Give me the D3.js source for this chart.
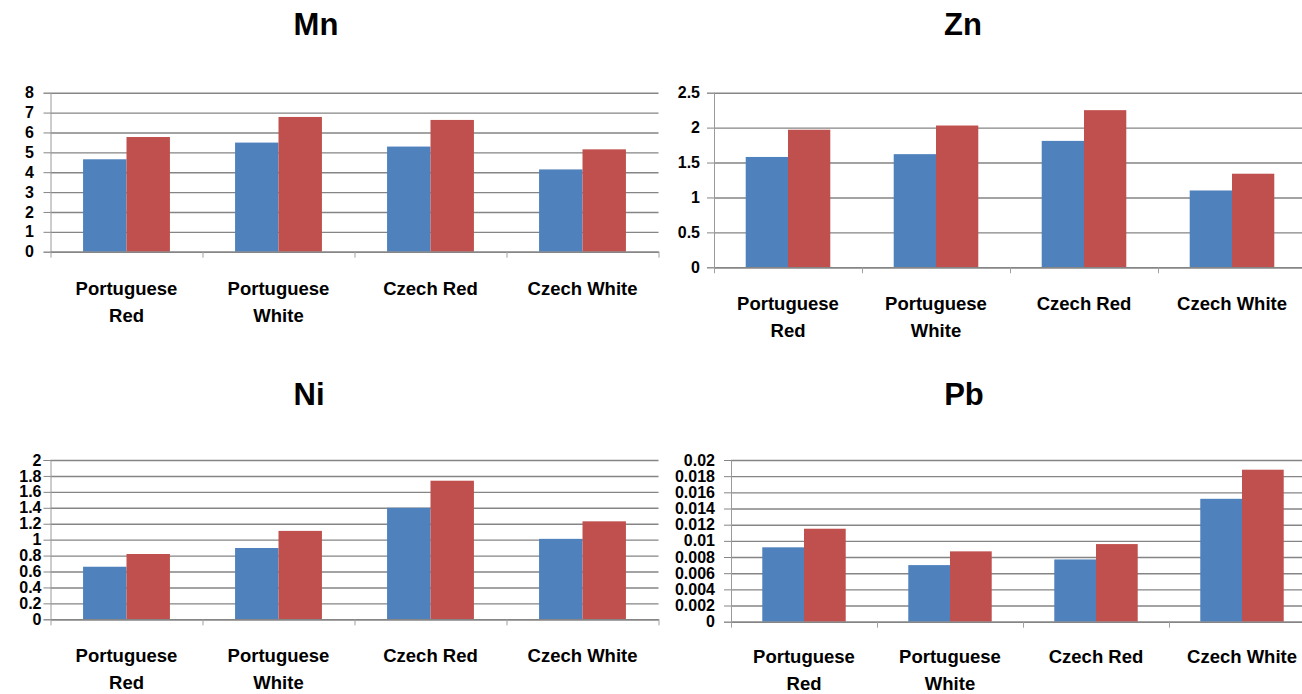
<!DOCTYPE html>
<html>
<head>
<meta charset="utf-8">
<script src="https://cdn.jsdelivr.net/npm/d3@7"></script>
<style>
  body { margin: 0; background: #fff; }
  text { font-family: "Liberation Sans", Arial, sans-serif; font-weight: bold; fill: #000; }
</style>
</head>
<body>
<div id="display"></div>
<script>
// categories and their two-line tick labels
const categories = ["Portuguese Red", "Portuguese White", "Czech Red", "Czech White"]
const categoryLines = [["Portuguese", "Red"], ["Portuguese", "White"], ["Czech Red"], ["Czech White"]]
const series = ["blue", "red"]
const colors = ["#4f81bd", "#c0504d"]

// values
const mnBlue = [4.65, 5.49, 5.29, 4.14]
const mnRed = [5.77, 6.78, 6.63, 5.15]
const znBlue = [1.58, 1.62, 1.81, 1.10]
const znRed = [1.97, 2.03, 2.25, 1.34]
const niBlue = [0.66, 0.895, 1.40, 1.01]
const niRed = [0.82, 1.11, 1.74, 1.23]
const pbBlue = [0.0092, 0.0070, 0.0077, 0.0152]
const pbRed = [0.0115, 0.0087, 0.0096, 0.0188]

// y tick labels
const mnTicks = [0, 1, 2, 3, 4, 5, 6, 7, 8]
const znTicks = [0, 0.5, 1, 1.5, 2, 2.5]
const niTicks = [0, 0.2, 0.4, 0.6, 0.8, 1, 1.2, 1.4, 1.6, 1.8, 2]
const pbTicks = [0, 0.002, 0.004, 0.006, 0.008, 0.01, 0.012, 0.014, 0.016, 0.018, 0.02]

function panel(svg, title, blue, red, ticks, box)
{
    const n = categories.length
    const gap = 1.5 / 3.5   // excel gap width 150%
    let x = d3.scaleBand(categories, [box.left, box.left + box.step * n])
        .paddingInner(gap).paddingOuter(gap / 2)
    let xs = d3.scaleBand(series, [0, x.bandwidth()])
    let y = d3.scaleLinear([0, d3.max(ticks)], [box.bottom, box.top])
    let right = box.left + box.step * n

    const g = svg.append("g")

    // gridlines
    g.append("g")
        .attr("transform", `translate(${box.left},0)`)
        .call(d3.axisLeft(y).tickValues(ticks).tickSize(-(right - box.left)).tickFormat(""))
        .call(a => a.select(".domain").remove())
        .call(a => a.selectAll("line").attr("stroke", "#858585").attr("stroke-width", 1.4))

    // bars
    const rows = categories.map((c, i) => ({c, v: [blue[i], red[i]]}))
    g.append("g")
      .selectAll("g")
      .data(rows)
      .join("g")
        .attr("transform", d => `translate(${x(d.c)},0)`)
      .selectAll("rect")
      .data(d => d.v.map((v, j) => ({s: series[j], v, j})))
      .join("rect")
        .attr("x", d => xs(d.s))
        .attr("width", xs.bandwidth())
        .attr("y", d => y(d.v))
        .attr("height", d => y(0) - y(d.v))
        .attr("fill", d => colors[d.j])

    // y axis with labels
    g.append("g")
        .attr("transform", `translate(${box.left},0)`)
        .call(d3.axisLeft(y).tickValues(ticks).tickSize(7).tickPadding(box.pad).tickFormat(d3.format("~f")))
        .call(a => a.select(".domain").attr("stroke", "#9a9a9a"))
        .call(a => a.selectAll("line").attr("stroke", "#858585"))
        .call(a => a.selectAll("text").style("font-size", "16px").attr("fill", "#000"))

    // x axis with ticks between categories
    let xb = d3.scaleLinear([0, n], [box.left, right])
    g.append("g")
        .attr("transform", `translate(0,${box.bottom})`)
        .call(d3.axisBottom(xb).ticks(n).tickSize(6).tickSizeOuter(0).tickFormat(""))
        .call(a => a.select(".domain").attr("stroke", "#858585").attr("stroke-width", 1.4))
        .call(a => a.selectAll("line").attr("stroke", "#a0a0a0"))

    // category labels
    g.append("g")
      .selectAll("text")
      .data(categories)
      .join("text")
        .attr("text-anchor", "middle")
        .attr("transform", d => `translate(${x(d) + x.bandwidth() / 2},${box.bottom + box.catGap})`)
        .style("font-size", "18.5px")
      .selectAll("tspan")
      .data((d, i) => categoryLines[i])
      .join("tspan")
        .attr("x", 0)
        .attr("y", (d, i) => i * 27)
        .text(d => d)

    g.append("text")
        .attr("x", box.titleX)
        .attr("y", box.titleY)
        .attr("text-anchor", "middle")
        .style("font-size", "31px")
        .text(title)
}

function chart(parentNode)
{
    let width = 1302
    let height = 694
    const svg = d3.create("svg")
        .attr("width", width)
        .attr("height", height)
        .attr("viewBox", [0, 0, width, height])

    panel(svg, "Mn", mnBlue, mnRed, mnTicks, {left: 50.5, step: 152, top: 92.7, bottom: 251.7, pad: 9.5, catGap: 43, titleX: 316, titleY: 35})
    panel(svg, "Zn", znBlue, znRed, znTicks, {left: 714, step: 148, top: 92.7, bottom: 267.3, pad: 7, catGap: 43, titleX: 963, titleY: 35})
    panel(svg, "Ni", niBlue, niRed, niTicks, {left: 50.5, step: 152, top: 460, bottom: 619.3, pad: 2, catGap: 43, titleX: 309, titleY: 405})
    panel(svg, "Pb", pbBlue, pbRed, pbTicks, {left: 731, step: 146, top: 460, bottom: 621.7, pad: 9, catGap: 41, titleX: 964, titleY: 405})

    parentNode.appendChild(svg.node())
}

document.addEventListener("DOMContentLoaded", () => {
    chart(document.getElementById("display"))
})
</script>
</body>
</html>
